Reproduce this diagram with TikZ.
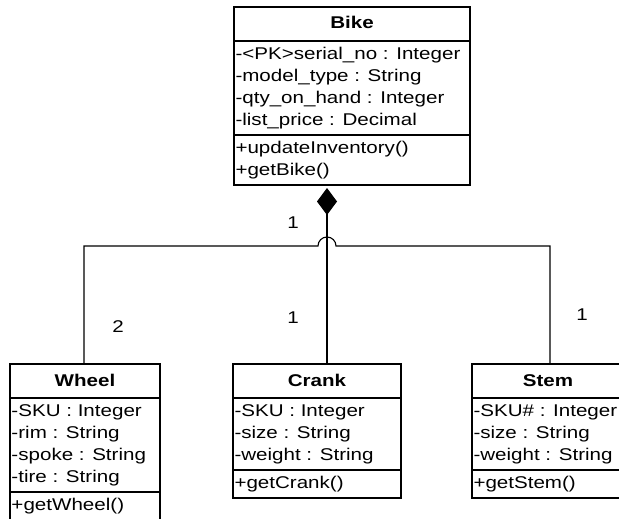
\documentclass[tikz,border=0pt]{standalone}
\usepackage{fontspec}
\setmainfont{Liberation Sans}[FakeStretch=1.21]
\usetikzlibrary{shapes.multipart, arrows.meta, positioning, calc}

\newcommand{\clsname}[1]{\rule[-9pt]{0pt}{28pt}\textbf{#1}}

\begin{document}
\begin{tikzpicture}[
    x=1pt, y=-1pt,
    font=\fontsize{17}{22}\selectfont,
    cls/.style={rectangle split, rectangle split parts=3, rectangle split draw splits=false,
      rectangle split part align={center, left, left}, align=left, draw=black, line width=2.6pt,
      minimum width=#1, inner xsep=1.5pt, inner ysep=1.7pt, outer sep=0pt, anchor=north west},
    sep/.style={line width=1.6pt},
    link/.style={line width=1.1pt},
    comp/.style={link, {Diamond[fill=black, length=27pt, width=20pt]}-},
    mult/.style={inner sep=0pt}
  ]
  \useasboundingbox (0,0) rectangle (619,519);

  \node[cls=236pt] (bike) at (234,7) {\clsname{Bike}
    \nodepart{two}\strut-<PK>serial\_no : Integer\\\strut-model\_type : String\\
      \strut-qty\_on\_hand : Integer\\\strut-list\_price : Decimal
    \nodepart{three}\strut+updateInventory()\\\strut+getBike()};
  \node[cls=150pt] (wheel) at (10,364) {\clsname{Wheel}
    \nodepart{two}\strut-SKU : Integer\\\strut-rim : String\\
      \strut-spoke : String\\\strut-tire : String
    \nodepart{three}\strut+getWheel()};
  \node[cls=168pt] (crank) at (233,364) {\clsname{Crank}
    \nodepart{two}\strut-SKU : Integer\\\strut-size : String\\\strut-weight : String
    \nodepart{three}\strut+getCrank()};
  \node[cls=152pt] (stem) at (472,364) {\clsname{Stem}
    \nodepart{two}\strut-SKU\# : Integer\\\strut-size : String\\\strut-weight : String
    \nodepart{three}\strut+getStem()};

  \foreach \c in {bike, wheel, crank, stem} {
    \draw[sep] (\c.text split west) -- (\c.text split east);
    \draw[sep] (\c.two split west) -- (\c.two split east);
  }

  \coordinate (hub) at (327,246);
  \coordinate (lft) at (84,246);
  \coordinate (rgt) at (550,246);

  \draw[comp, shorten <=3pt] (bike.south -| hub) -- (crank.north -| hub);
  \draw[link] (wheel.north -| lft) -- (lft) -- ([xshift=-9pt]hub)
    arc[start angle=180, end angle=360, radius=9] -- (rgt) -- (stem.north -| rgt);

  \node[mult] (m1) at (293,223) {1};
  \node[mult] (m2) at (118,327) {2};
  \node[mult] (m3) at (293,318) {1};
  \node[mult] (m4) at (582,315) {1};
\end{tikzpicture}
\end{document}
